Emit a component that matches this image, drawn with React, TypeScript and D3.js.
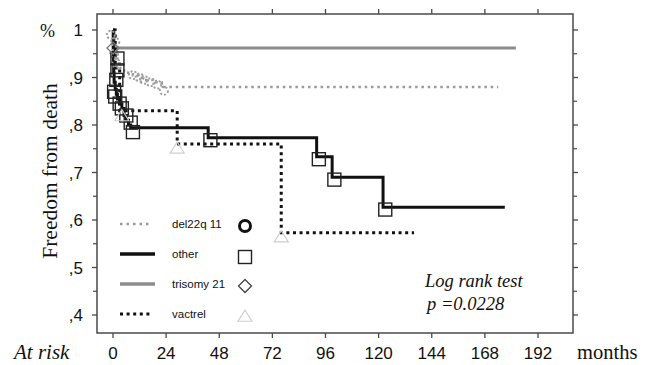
import React from "react";
import * as d3 from "d3";

const xTicks = [0, 24, 48, 72, 96, 120, 144, 168, 192];
const yTicks = [0.4, 0.5, 0.6, 0.7, 0.8, 0.9, 1.0];
const yTickLabels = [",4", ",5", ",6", ",7", ",8", ",9", "1"];
const yMinor = [0.45, 0.55, 0.65, 0.75, 0.85, 0.95];

// Kaplan-Meier steps: [month, survival]
const del22Times = [0, 0.3, 0.6, 1, 1.5, 2, 3, 5, 9, 13, 18, 22];
const del22Surv = [1, 0.985, 0.97, 0.955, 0.94, 0.93, 0.92, 0.91, 0.905, 0.895, 0.89, 0.88];
const del22End = 174;
const del22Cens = [[-1, 0.99], [1, 0.975], [0.5, 0.95], [1.5, 0.93], [9, 0.905], [12, 0.9], [14, 0.895], [17, 0.89], [20, 0.885], [23, 0.872]];

const otherTimes = [0, 0.1, 0.2, 0.3, 0.5, 1, 1.5, 2, 3, 4, 5, 6, 7, 8, 43, 92, 99, 122];
const otherSurv = [1, 0.96, 0.93, 0.91, 0.89, 0.875, 0.865, 0.855, 0.845, 0.835, 0.82, 0.81, 0.8, 0.794, 0.773, 0.733, 0.69, 0.627];
const otherEnd = 177;
const otherCens = [[2, 0.94], [2, 0.915], [1.5, 0.895], [0.5, 0.87], [1, 0.86], [3, 0.845], [4, 0.835], [6, 0.82], [8, 0.805], [9, 0.785], [44, 0.768], [93, 0.728], [100, 0.685], [123, 0.622]];

const triTimes = [0, 0.5];
const triSurv = [1, 0.962];
const triEnd = 182;
const triCens = [[0, 0.962]];

const vacTimes = [0, 1, 3, 29, 76];
const vacSurv = [1, 0.92, 0.83, 0.76, 0.573];
const vacEnd = 136;
const vacCens = [[4, 0.82], [29, 0.752], [76, 0.565]];

const legendNames = ["del22q 11", "other", "trisomy 21", "vactrel"];

const x = d3.scaleLinear().domain([0, 192]).range([113, 538]);
const y = d3.scaleLinear().domain([0.4, 1]).range([315, 30]);

const frame = { l: 97, r: 573, t: 14, b: 333 };

function stepPath(times: number[], surv: number[], end: number) {
  const pts: [number, number][] = times.map((t, i) => [t, surv[i]]);
  pts.push([end, surv[surv.length - 1]]);
  return d3
    .line<[number, number]>()
    .x((d) => x(d[0]))
    .y((d) => y(d[1]))
    .curve(d3.curveStepAfter)(pts) as string;
}

const sans = "'Liberation Sans', Arial, sans-serif";
const serif = "'Liberation Serif', 'Times New Roman', serif";
const frameColor = "#4a4a4a";

export default function App() {
  const tri = (cx: number, cy: number, s: number) =>
    `M${cx - s},${cy + s * 0.75} L${cx + s},${cy + s * 0.75} L${cx},${cy - s * 0.85} Z`;
  const dia = (cx: number, cy: number, s: number) =>
    `M${cx},${cy - s} L${cx + s},${cy} L${cx},${cy + s} L${cx - s},${cy} Z`;

  const legendY = [224, 254, 284, 314];

  return (
    <svg
      width={653}
      height={365}
      style={{ position: "absolute", left: 0, top: 0, background: "#fff" }}
    >
      <rect x={0} y={0} width={653} height={365} fill="#fff" />
      {/* frame */}
      <rect
        x={frame.l}
        y={frame.t}
        width={frame.r - frame.l}
        height={frame.b - frame.t}
        fill="none"
        stroke={frameColor}
        strokeWidth={1.5}
      />
      {/* x ticks top & bottom */}
      {xTicks.map((t) => (
        <g key={"xt" + t}>
          <line x1={x(t)} x2={x(t)} y1={frame.b} y2={frame.b + 5} stroke={frameColor} strokeWidth={1.3} />
          <line x1={x(t)} x2={x(t)} y1={frame.t} y2={frame.t - 5} stroke={frameColor} strokeWidth={1.3} />
          <text x={x(t)} y={359} textAnchor="middle" fontFamily={sans} fontSize={17} fill="#111">
            {t}
          </text>
        </g>
      ))}
      {/* y ticks */}
      {yTicks.map((v, i) => (
        <g key={"yt" + v}>
          <line x1={frame.l} x2={frame.l - 5} y1={y(v)} y2={y(v)} stroke={frameColor} strokeWidth={1.3} />
          <line x1={frame.r} x2={frame.r + 5} y1={y(v)} y2={y(v)} stroke={frameColor} strokeWidth={1.3} />
          <text x={83} y={y(v) + 6} textAnchor="end" fontFamily={sans} fontSize={17} fill="#111">
            {yTickLabels[i]}
          </text>
        </g>
      ))}
      {yMinor.map((v) => (
        <g key={"ym" + v}>
          <line x1={frame.l} x2={frame.l - 4} y1={y(v)} y2={y(v)} stroke={frameColor} strokeWidth={1.2} />
          <line x1={frame.r} x2={frame.r + 4} y1={y(v)} y2={y(v)} stroke={frameColor} strokeWidth={1.2} />
        </g>
      ))}
      {/* axis titles */}
      <text x={40} y={37} fontFamily={serif} fontSize={18} fill="#111">%</text>
      <text
        transform={`translate(57,171) rotate(-90)`}
        textAnchor="middle"
        fontFamily={serif}
        fontSize={21.5}
        fill="#111"
      >
        Freedom from death
      </text>
      <text x={14} y={359} fontFamily={serif} fontStyle="italic" fontSize={21} fill="#111">At risk</text>
      <text x={577} y={359} fontFamily={serif} fontSize={20.5} fill="#111">months</text>

      {/* curves */}
      <path d={stepPath(triTimes, triSurv, triEnd)} fill="none" stroke="#8c8c8c" strokeWidth={3} />
      <path
        d={stepPath(del22Times, del22Surv, del22End)}
        fill="none"
        stroke="#9a9a9a"
        strokeWidth={2.5}
        strokeDasharray="2.5,3.8"
      />
      <path
        d={stepPath(vacTimes, vacSurv, vacEnd)}
        fill="none"
        stroke="#111"
        strokeWidth={3}
        strokeDasharray="3,3.6"
      />
      <path d={stepPath(otherTimes, otherSurv, otherEnd)} fill="none" stroke="#111" strokeWidth={3} />

      {/* censor markers */}
      {del22Cens.map((c, i) => (
        <circle key={"dc" + i} cx={x(c[0])} cy={y(c[1])} r={4} fill="none" stroke="#a0a0a0" strokeWidth={2} strokeDasharray="2,2" />
      ))}
      {otherCens.map((c, i) => (
        <rect key={"oc" + i} x={x(c[0]) - 6.5} y={y(c[1]) - 6.5} width={13} height={13} fill="none" stroke="#222" strokeWidth={1.4} />
      ))}
      {triCens.map((c, i) => (
        <path key={"tc" + i} d={dia(x(c[0]), y(c[1]), 6)} fill="none" stroke="#777" strokeWidth={1.3} />
      ))}
      {vacCens.map((c, i) => (
        <path key={"vc" + i} d={tri(x(c[0]), y(c[1]), 7)} fill="none" stroke="#cfcfcf" strokeWidth={1.2} />
      ))}

      {/* legend */}
      <line x1={120} x2={152} y1={legendY[0]} y2={legendY[0]} stroke="#9a9a9a" strokeWidth={2.5} strokeDasharray="2.5,4" />
      <line x1={120} x2={155} y1={legendY[1]} y2={legendY[1]} stroke="#111" strokeWidth={3.5} />
      <line x1={120} x2={155} y1={legendY[2]} y2={legendY[2]} stroke="#8c8c8c" strokeWidth={3.5} />
      <line x1={120} x2={152} y1={legendY[3]} y2={legendY[3]} stroke="#111" strokeWidth={3} strokeDasharray="3,3.6" />
      {legendNames.map((n, i) => (
        <text key={"ln" + i} x={172} y={legendY[i] + 4} fontFamily={sans} fontSize={11.5} fill="#111">
          {n}
        </text>
      ))}
      <circle cx={245} cy={legendY[0] + 2} r={5.5} fill="none" stroke="#111" strokeWidth={3} />
      <rect x={238.5} y={legendY[1] - 3.5} width={13} height={13} fill="none" stroke="#222" strokeWidth={1.4} />
      <path d={dia(245, legendY[2] + 2, 6.5)} fill="none" stroke="#444" strokeWidth={1.3} />
      <path d={tri(245, legendY[3] + 2, 7)} fill="none" stroke="#cfcfcf" strokeWidth={1.2} />

      {/* log rank */}
      <text x={425} y={287} fontFamily={serif} fontStyle="italic" fontSize={18.5} fill="#111">Log rank test</text>
      <text x={427} y={310} fontFamily={serif} fontStyle="italic" fontSize={18.5} fill="#111">p =0.0228</text>
    </svg>
  );
}
